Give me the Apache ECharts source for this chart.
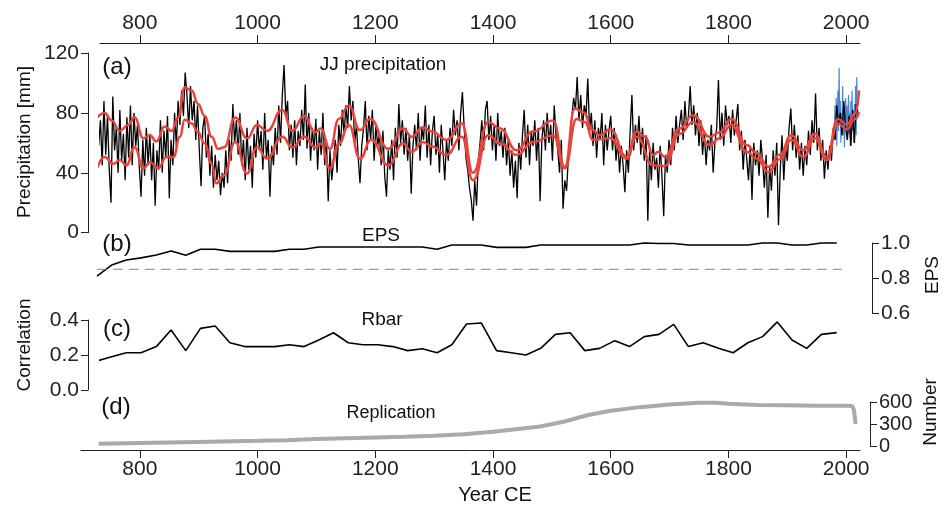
<!DOCTYPE html>
<html>
<head>
<meta charset="utf-8">
<script src="https://cdn.jsdelivr.net/npm/echarts@6/dist/echarts.min.js"></script>
<style>
  html, body { margin: 0; padding: 0; background: #fff; }
  #chart { width: 943px; height: 508px; }
</style>
</head>
<body>
<div id="chart"></div>
<script>
// year ticks shared by top and bottom axes
const yearTicks = [800, 1000, 1200, 1400, 1600, 1800, 2000];

// (a) JJ precipitation, reconstruction every 3 years from 730
const blackStart = 730;
const blackStep = 3;
const blackValues = [
  58, 75, 45, 88, 52, 78, 42, 20, 91, 55,
  70, 40, 82, 48, 66, 35, 77, 50, 85, 45,
  80, 58, 72, 44, 24, 62, 38, 70, 45, 66,
  35, 60, 18, 55, 42, 75, 40, 68, 50, 78,
  23, 62, 45, 80, 58, 88, 72, 95, 78, 107,
  92, 70, 98, 75, 88, 62, 85, 55, 31, 70,
  78, 50, 66, 38, 58, 30, 52, 35, 48, 25,
  40, 30, 55, 33, 62, 48, 86, 60, 75, 52,
  80, 45, 62, 35, 70, 42, 58, 30, 66, 50,
  75, 55, 68, 42, 80, 50, 62, 24, 58, 45,
  70, 52, 85, 60, 92, 112, 78, 88, 55, 72,
  50, 75, 45, 68, 58, 82, 62, 99, 56, 80,
  48, 70, 55, 76, 42, 68, 52, 80, 45, 62,
  21, 55, 35, 48, 62, 40, 72, 58, 82, 65,
  85, 70, 98, 75, 88, 60, 72, 50, 33, 58,
  70, 88, 55, 78, 62, 82, 48, 72, 58, 66,
  45, 68, 38, 24, 55, 42, 62, 35, 70, 50,
  86, 60, 75, 52, 70, 48, 66, 26, 58, 72,
  55, 80, 48, 70, 62, 85, 50, 72, 45, 68,
  78, 52, 66, 40, 72, 55, 35, 62, 48, 70,
  58, 82, 65, 75, 55, 80, 94, 70, 50, 42,
  30, 22, 8, 35, 18, 48, 60, 75, 55, 82,
  88, 62, 78, 55, 72, 48, 80, 58, 68, 50,
  70, 45, 62, 38, 55, 30, 48, 23, 60, 42,
  65, 82, 50, 72, 45, 68, 58, 75, 48, 70,
  21, 62, 75, 55, 80, 60, 72, 48, 85, 65,
  55, 40, 62, 16, 35, 28, 50, 62, 78, 90,
  82, 104, 75, 92, 70, 85, 78, 103, 68, 80,
  58, 75, 50, 70, 62, 80, 45, 72, 55, 68,
  78, 55, 70, 48, 62, 40, 58, 45, 27, 55,
  40, 68, 92, 55, 72, 60, 78, 52, 70, 48,
  65, 8, 55, 35, 60, 42, 50, 30, 58, 38,
  11, 52, 40, 62, 45, 70, 55, 78, 60, 72,
  82, 62, 88, 70, 78, 98, 72, 85, 65, 80,
  58, 75, 52, 68, 45, 62, 55, 72, 40, 60,
  70, 102, 62, 80, 58, 85, 72, 78, 60, 82,
  65, 75, 86, 55, 68, 42, 62, 50, 35, 58,
  22, 60, 45, 55, 38, 62, 48, 30, 52, 10,
  45, 28, 55, 38, 60, 5, 42, 65, 35, 58,
  48, 70, 83, 55, 72, 50, 65, 42, 60, 38,
  58, 45, 68, 52, 75, 60, 93, 55, 70, 48,
  62, 36, 55, 42, 58, 48, 70, 62, 85, 72,
  80, 65, 88, 70, 62, 78, 58, 82, 60, 86,
  80
];

// instrumental (blue), annual from 1980
const blueStart = 1980;
const blueValues = [
  70, 85, 62, 90, 58, 78, 95, 68, 110, 72,
  88, 60, 80, 75, 98, 65, 82, 57, 76, 90,
  70, 85, 62, 78, 92, 66, 80, 58, 88, 74,
  95, 68, 82, 60, 86, 72, 98, 65, 104, 78,
  88
];

// smoothed curves (red)
const upperYears = [728, 740, 752, 766, 780, 791, 806, 817, 828, 842, 854, 865, 876, 888, 899, 910, 922, 933, 943, 962, 982, 999, 1016, 1042, 1059, 1079, 1098, 1107, 1123, 1138, 1155, 1174, 1191, 1222, 1247, 1262, 1281, 1296, 1321, 1347, 1366, 1392, 1412, 1440, 1468, 1502, 1522, 1539, 1553, 1570, 1581, 1599, 1627, 1644, 1658, 1672, 1681, 1692, 1717, 1740, 1768, 1785, 1805, 1831, 1848, 1868, 1887, 1907, 1927, 1947, 1967, 1986, 2001, 2015, 2022];
const upperValues = [77, 80, 75, 68, 72, 77, 63, 65, 61, 71, 68, 77, 97, 95, 86, 78, 64, 56, 57, 77, 63, 72, 68, 82, 68, 78, 67, 69.5, 56, 76, 85, 68.5, 76, 56, 69.5, 64, 70.5, 67.5, 62, 73, 40, 74, 69.5, 55, 67.5, 75, 44, 83, 80.5, 68.5, 65, 69, 50.5, 67.5, 64, 52, 54, 50.5, 69.5, 78.5, 64, 67, 76, 58.5, 53, 44, 52, 65, 55, 66, 50.5, 76, 72, 79.5, 95];
const lowerYears = [728, 740, 755, 766, 777, 791, 806, 817, 831, 845, 857, 868, 876, 888, 899, 910, 922, 930, 943, 962, 982, 999, 1016, 1042, 1059, 1079, 1098, 1107, 1123, 1138, 1155, 1174, 1193, 1222, 1247, 1262, 1281, 1296, 1321, 1347, 1366, 1392, 1412, 1440, 1468, 1502, 1522, 1542, 1556, 1570, 1599, 1627, 1644, 1672, 1692, 1717, 1740, 1768, 1785, 1805, 1831, 1848, 1868, 1887, 1907, 1927, 1947, 1967, 1986, 2001, 2015, 2022];
const lowerValues = [43.5, 50.5, 46, 48.5, 45, 57, 43, 47, 43, 50.5, 50.5, 64, 75.5, 73, 67, 59.5, 46, 33, 38.5, 60.5, 39.5, 57, 49.5, 64, 57, 64, 57, 59.5, 43, 59.5, 72, 49.5, 62, 45, 59.5, 54, 60.5, 57.5, 52, 64, 35, 65, 59.5, 52, 60.5, 65, 43, 76, 74, 62, 63, 49.5, 64, 45, 44.5, 66, 74, 58.5, 63, 72, 54, 49.5, 40.5, 49, 62, 50.5, 63, 48.5, 73, 69, 76, 80.5];

// (b) EPS and (c) Rbar, moving windows
const windowYears = [727, 752, 777, 802, 828, 853, 878, 903, 928, 953, 978, 1003, 1029, 1054, 1079, 1104, 1129, 1154, 1179, 1204, 1230, 1255, 1280, 1305, 1330, 1355, 1380, 1406, 1431, 1456, 1481, 1506, 1531, 1556, 1581, 1607, 1632, 1657, 1682, 1707, 1732, 1757, 1783, 1808, 1833, 1858, 1883, 1908, 1933, 1958, 1984];
const epsValues = [0.811, 0.874, 0.903, 0.915, 0.931, 0.954, 0.93, 0.964, 0.964, 0.952, 0.952, 0.952, 0.952, 0.964, 0.964, 0.977, 0.977, 0.977, 0.977, 0.977, 0.977, 0.977, 0.977, 0.964, 0.989, 0.989, 0.989, 0.975, 0.975, 0.975, 0.989, 0.989, 0.989, 0.989, 0.989, 0.989, 0.989, 1.0, 0.997, 0.997, 0.989, 0.989, 0.989, 0.989, 0.989, 1.0, 1.0, 0.989, 0.989, 1.0, 1.0];
const rbarValues = [0.166, 0.19, 0.213, 0.213, 0.248, 0.343, 0.225, 0.352, 0.366, 0.27, 0.248, 0.248, 0.248, 0.259, 0.248, 0.286, 0.327, 0.27, 0.259, 0.259, 0.248, 0.225, 0.236, 0.213, 0.259, 0.377, 0.383, 0.225, 0.213, 0.2, 0.238, 0.318, 0.327, 0.225, 0.238, 0.282, 0.248, 0.305, 0.318, 0.375, 0.248, 0.27, 0.238, 0.213, 0.27, 0.305, 0.389, 0.286, 0.238, 0.318, 0.328];
const epsThresholdYears = [727, 1993];
const epsThreshold = 0.85;

// (d) replication
const replYears = [730, 800, 900, 1000, 1050, 1100, 1150, 1200, 1250, 1300, 1350, 1400, 1450, 1480, 1520, 1560, 1600, 1650, 1700, 1750, 1780, 1800, 1850, 1900, 1950, 2000, 2010, 2013, 2016];
const replValues = [30, 40, 55, 70, 80, 95, 105, 115, 125, 140, 160, 195, 240, 265, 330, 420, 480, 530, 565, 590, 590, 575, 560, 555, 550, 548, 545, 500, 300];

const FONT = '"Liberation Sans", Arial, Helvetica, sans-serif';
const AXIS_COL = '#222';

function pairs(xs, ys) { return xs.map((x, i) => [x, ys[i]]); }

const blackData = blackValues.map((v, i) => [blackStart + i * blackStep, v]);
const blueData = blueValues.map((v, i) => [blueStart + i, v]);

function xAxisHidden(grid, min) {
  return { gridIndex: grid, type: 'value', min: min, max: 2023.5, show: false };
}

const chart = echarts.init(document.getElementById('chart'), null, { renderer: 'canvas' });

const option = {
  animation: false,
  backgroundColor: '#fff',
  textStyle: { fontFamily: FONT },
  grid: [
    { left: 100, right: 83, top: 53, height: 179.7 },
    { left: 81, right: 83, top: 243, height: 70 },
    { left: 100, right: 83, top: 320, height: 70 },
    { left: 81, right: 83, top: 402, height: 44 }
  ],
  xAxis: [
    {
      gridIndex: 0, type: 'value', min: 732.28, max: 2023.5, position: 'top', offset: 10,
      axisLine: { show: true, onZero: false, lineStyle: { color: AXIS_COL, width: 1 } },
      axisTick: { show: true, length: 8, customValues: yearTicks, lineStyle: { color: AXIS_COL } },
      axisLabel: { customValues: yearTicks, fontSize: 21, color: AXIS_COL, margin: 9, formatter: v => String(v) },
      splitLine: { show: false }
    },
    xAxisHidden(1, 700),
    xAxisHidden(2, 732.28),
    {
      gridIndex: 3, type: 'value', min: 700, max: 2023.5, position: 'bottom', offset: 4,
      axisLine: { show: true, onZero: false, lineStyle: { color: AXIS_COL, width: 1 } },
      axisTick: { show: true, length: 8, customValues: yearTicks, lineStyle: { color: AXIS_COL } },
      axisLabel: { customValues: yearTicks, fontSize: 21, color: AXIS_COL, margin: 9, formatter: v => String(v) },
      splitLine: { show: false }
    }
  ],
  yAxis: [
    {
      gridIndex: 0, type: 'value', min: 0, max: 120, interval: 40, position: 'left', offset: 12,
      axisLine: { show: true, onZero: false, lineStyle: { color: AXIS_COL } },
      axisTick: { show: true, length: 7, lineStyle: { color: AXIS_COL } },
      axisLabel: { fontSize: 21, color: AXIS_COL, margin: 9 },
      splitLine: { show: false }
    },
    {
      gridIndex: 1, type: 'value', min: 0.6, max: 1.0, interval: 0.2, position: 'right', offset: 12,
      axisLine: { show: true, onZero: false, lineStyle: { color: AXIS_COL } },
      axisTick: { show: true, length: 7, lineStyle: { color: AXIS_COL } },
      axisLabel: { fontSize: 21, color: AXIS_COL, margin: 9, formatter: v => v.toFixed(1) },
      splitLine: { show: false }
    },
    {
      gridIndex: 2, type: 'value', min: 0, max: 0.4, interval: 0.2, position: 'left', offset: 12,
      axisLine: { show: true, onZero: false, lineStyle: { color: AXIS_COL } },
      axisTick: { show: true, length: 7, lineStyle: { color: AXIS_COL } },
      axisLabel: { fontSize: 21, color: AXIS_COL, margin: 9, formatter: v => v.toFixed(1) },
      splitLine: { show: false }
    },
    {
      gridIndex: 3, type: 'value', min: 0, max: 600, interval: 300, position: 'right', offset: 10,
      axisLine: { show: true, onZero: false, lineStyle: { color: AXIS_COL } },
      axisTick: { show: true, length: 7, lineStyle: { color: AXIS_COL } },
      axisLabel: { fontSize: 20, color: AXIS_COL, margin: 9 },
      splitLine: { show: false }
    }
  ],
  series: [
    {
      name: 'instrumental', type: 'line', xAxisIndex: 0, yAxisIndex: 0, data: blueData,
      showSymbol: false, clip: false, lineStyle: { color: '#4a86d0', width: 1.2 }, z: 2
    },
    {
      name: 'reconstruction', type: 'line', xAxisIndex: 0, yAxisIndex: 0, data: blackData,
      showSymbol: false, clip: false, lineStyle: { color: '#000', width: 1.3 }, z: 3
    },
    {
      name: 'upper', type: 'line', xAxisIndex: 0, yAxisIndex: 0, data: pairs(upperYears, upperValues),
      smooth: 0.5, smoothMonotone: 'x', showSymbol: false, clip: false,
      lineStyle: { color: '#e8443c', width: 2.5 }, z: 4
    },
    {
      name: 'lower', type: 'line', xAxisIndex: 0, yAxisIndex: 0, data: pairs(lowerYears, lowerValues),
      smooth: 0.5, smoothMonotone: 'x', showSymbol: false, clip: false,
      lineStyle: { color: '#e8443c', width: 2.5 }, z: 4
    },
    {
      name: 'EPS', type: 'line', xAxisIndex: 1, yAxisIndex: 1, data: pairs(windowYears, epsValues),
      showSymbol: false, clip: false, lineStyle: { color: '#000', width: 1.6 }
    },
    {
      name: 'EPS threshold', type: 'line', xAxisIndex: 1, yAxisIndex: 1,
      data: epsThresholdYears.map(y => [y, epsThreshold]),
      showSymbol: false, lineStyle: { color: '#888', width: 1, type: [10, 6] }
    },
    {
      name: 'Rbar', type: 'line', xAxisIndex: 2, yAxisIndex: 2, data: pairs(windowYears, rbarValues),
      showSymbol: false, clip: false, lineStyle: { color: '#000', width: 1.6 }
    },
    {
      name: 'Replication', type: 'line', xAxisIndex: 3, yAxisIndex: 3, data: pairs(replYears, replValues),
      showSymbol: false, clip: false, lineStyle: { color: '#aaaaaa', width: 4 }
    }
  ],
  graphic: [
    { type: 'text', x: 117, y: 67, style: { text: '(a)', font: '24px ' + FONT, fill: '#111', align: 'center', verticalAlign: 'middle' } },
    { type: 'text', x: 383, y: 65, style: { text: 'JJ precipitation', font: '19px ' + FONT, fill: '#111', align: 'center', verticalAlign: 'middle' } },
    { type: 'text', x: 117, y: 244, style: { text: '(b)', font: '24px ' + FONT, fill: '#111', align: 'center', verticalAlign: 'middle' } },
    { type: 'text', x: 381, y: 236, style: { text: 'EPS', font: '19px ' + FONT, fill: '#111', align: 'center', verticalAlign: 'middle' } },
    { type: 'text', x: 117, y: 329, style: { text: '(c)', font: '24px ' + FONT, fill: '#111', align: 'center', verticalAlign: 'middle' } },
    { type: 'text', x: 382, y: 320, style: { text: 'Rbar', font: '19px ' + FONT, fill: '#111', align: 'center', verticalAlign: 'middle' } },
    { type: 'text', x: 116, y: 407, style: { text: '(d)', font: '24px ' + FONT, fill: '#111', align: 'center', verticalAlign: 'middle' } },
    { type: 'text', x: 391, y: 413, style: { text: 'Replication', font: '18px ' + FONT, fill: '#111', align: 'center', verticalAlign: 'middle' } },
    { type: 'text', x: 25, y: 142, rotation: Math.PI / 2, style: { text: 'Precipitation [mm]', font: '19px ' + FONT, fill: '#111', align: 'center', verticalAlign: 'middle' } },
    { type: 'text', x: 25, y: 345, rotation: Math.PI / 2, style: { text: 'Correlation', font: '19px ' + FONT, fill: '#111', align: 'center', verticalAlign: 'middle' } },
    { type: 'text', x: 933, y: 275, rotation: Math.PI / 2, style: { text: 'EPS', font: '19px ' + FONT, fill: '#111', align: 'center', verticalAlign: 'middle' } },
    { type: 'text', x: 931, y: 412, rotation: Math.PI / 2, style: { text: 'Number', font: '19px ' + FONT, fill: '#111', align: 'center', verticalAlign: 'middle' } },
    { type: 'text', x: 495, y: 495, style: { text: 'Year CE', font: '20px ' + FONT, fill: '#111', align: 'center', verticalAlign: 'middle' } }
  ]
};

chart.setOption(option);
</script>
</body>
</html>
